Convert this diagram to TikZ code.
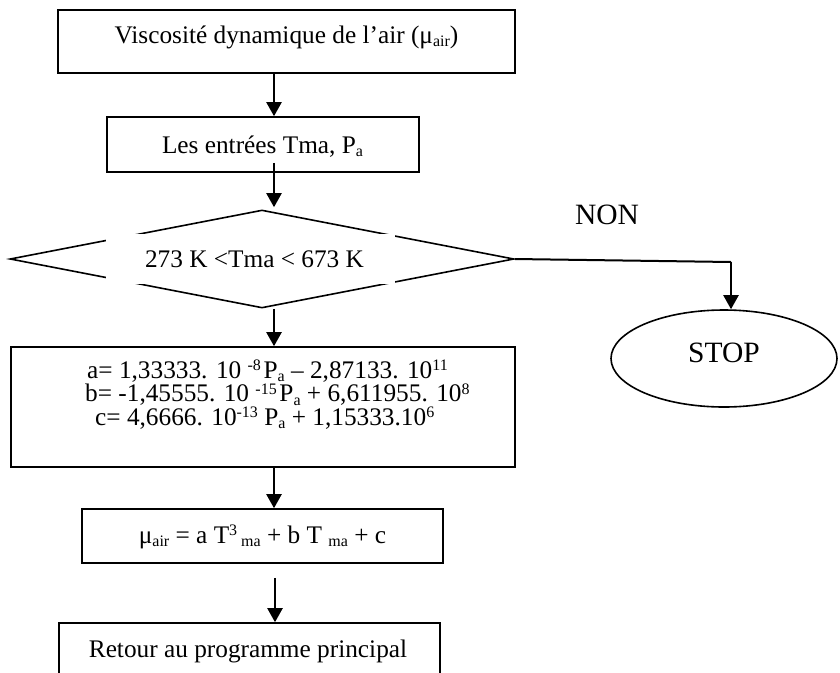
\documentclass[tikz,border=0pt]{standalone}
\usepackage{fontspec}
\setmainfont{Liberation Serif}
\usetikzlibrary{arrows.meta,shapes.geometric}

% word-processor style raised / lowered small text
\newcommand\sups[1]{\raisebox{7.5pt}{\fontsize{16pt}{16pt}\selectfont #1}}
\newcommand\subs[1]{\raisebox{-3.5pt}{\fontsize{16pt}{16pt}\selectfont #1}}
% three tightly spaced lines, baseline on the first one
\newcommand\threelines[3]{\vtop{\baselineskip=23.5pt\lineskiplimit=-100pt\lineskip=0pt
  \hbox{#1}\hbox{#2}\hbox{#3}}}

\begin{document}
\begin{tikzpicture}[x=1pt,y=-1pt,
  frame/.style={draw, line width=1.6pt, inner sep=0pt, rectangle},
  txt/.style={inner sep=0pt, font=\fontsize{25.3pt}{30pt}\selectfont},
  bigtxt/.style={inner sep=0pt, font=\fontsize{29.5pt}{34pt}\selectfont},
  flow/.style={line width=2.2pt, -{Triangle[length=14pt,width=15pt]}},
  link/.style={line width=2pt}]

\fill[white] (0,0) rectangle (840,672);
\clip (0,0) rectangle (840,672);

% boxes
\node[frame, minimum width=457pt, minimum height=63pt] (b1) at (286.5,41.5) {};
\node[frame, minimum width=312pt, minimum height=55pt] (b2) at (263,144.5) {};
\node[draw, line width=1.6pt, shape=diamond, inner sep=0pt,
      minimum width=504pt, minimum height=98pt] (dia) at (262,259) {};
\node[fill=white, inner sep=0pt, minimum width=289pt, minimum height=50.5pt] (mask) at (250.5,259) {};
\node[frame, minimum width=504pt, minimum height=120pt] (b3) at (263,407) {};
\node[frame, minimum width=361pt, minimum height=54pt] (b4) at (262.5,536) {};
\node[frame, minimum width=381pt, minimum height=77pt] (b5) at (249.5,661.5) {};
\node[draw, line width=1.6pt, shape=ellipse, inner sep=0pt,
      minimum width=226pt, minimum height=97pt] (stop) at (724,358.5) {};

% texts
\node[txt, anchor=base] (t1) at (286.5,43.3) {Viscosité dynamique de l’air (μ\subs{air})};
\node[txt, anchor=base] (t2) at (262.5,153) {Les entrées Tma, P\subs{a}};
\node[txt, anchor=base] (cond) at (254.5,267) {273 K <Tma < 673 K};
\node[txt, anchor=base west] (coef) at (85,378) {\threelines
  {\hspace{2pt}a= 1,33333. 10 \sups{-8\,}P\subs{a} – 2,87133. 10\sups{11}}
  {b= -1,45555. 10 \sups{-15\,}P\subs{a} + 6,611955. 10\sups{8}}
  {\hspace{10pt}c= 4,6666. 10\sups{-13} P\subs{a} + 1,15333.10\sups{6}}};
\node[txt, anchor=base] (t4) at (262.5,543) {μ\subs{air} = a T\sups{3}\subs{\ ma} + b T \subs{ma} + c};
\node[txt, anchor=base] (t5) at (248,657) {Retour au programme principal};
\node[bigtxt, anchor=base] (non) at (607,224) {NON};
\node[bigtxt, anchor=base] (stoptxt) at (724,362) {STOP};

% connectors
\coordinate (ax) at (274,0);
\coordinate (bx) at (275,0);
\coordinate (turn) at (731,262);
\draw[flow] (b1.south -| ax) -- (b2.north -| ax);
\draw[flow] ([yshift=10pt]b2.south -| ax) -- ([yshift=2pt]dia.north -| ax);
\draw[flow] (dia.south -| ax) -- (b3.north -| ax);
\draw[flow] (b3.south -| ax) -- (b4.north -| ax);
\draw[flow] ([yshift=-14pt]b4.south -| bx) -- (b5.north -| bx);
\draw[link] (dia.east) -- (turn);
\draw[flow] (turn) -- (stop.north -| turn);
\end{tikzpicture}
\end{document}
